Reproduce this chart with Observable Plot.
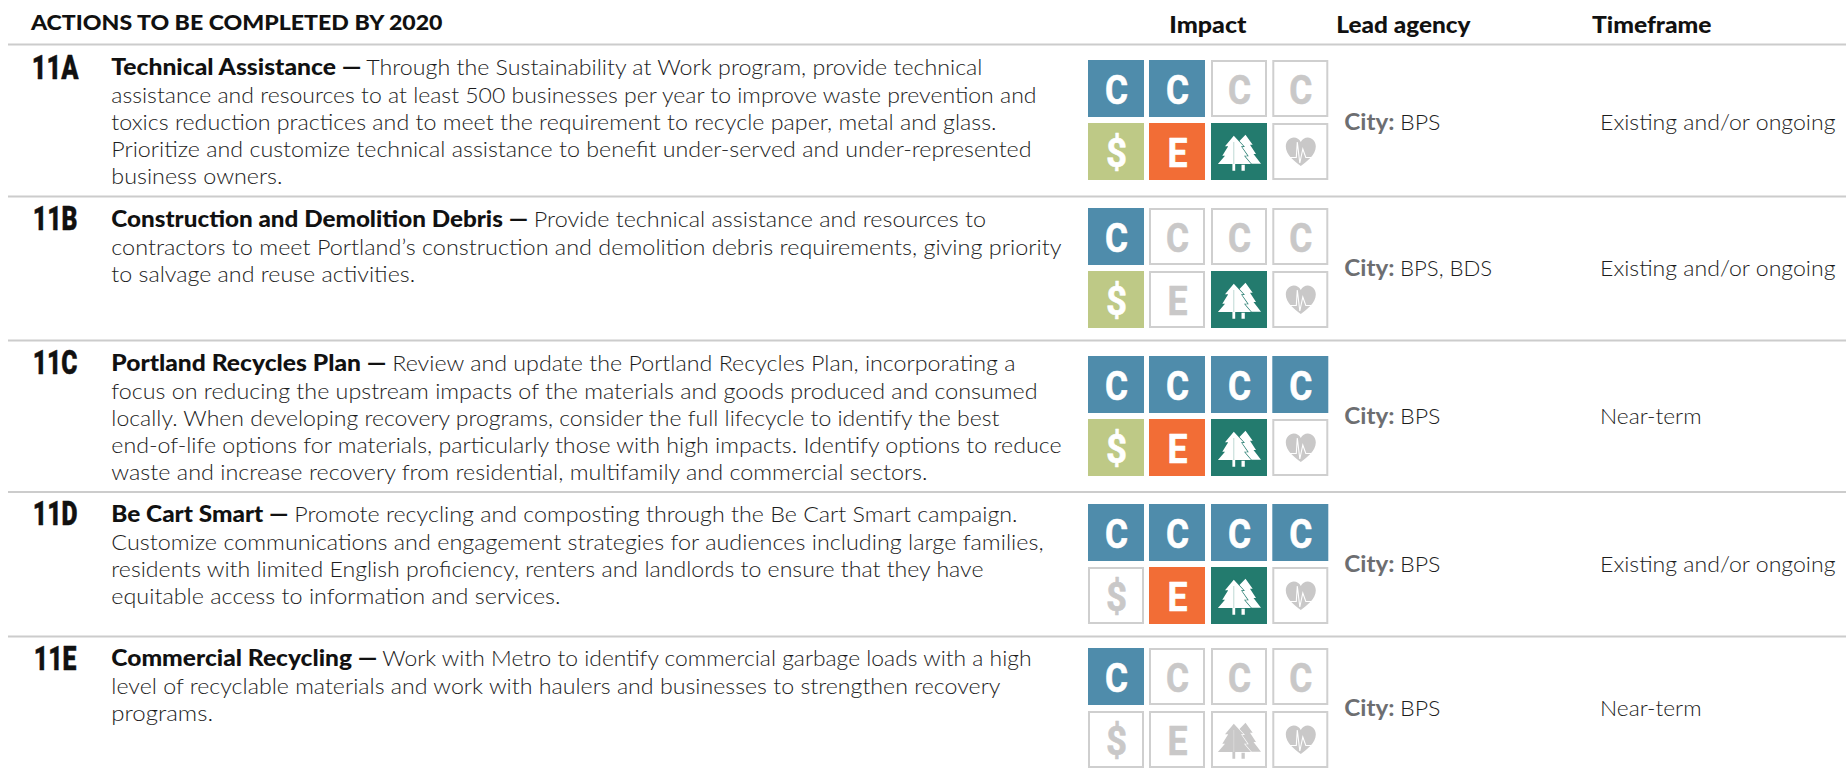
<!DOCTYPE html>
<html>
<head>
<meta charset="utf-8">
<script src="https://cdn.jsdelivr.net/npm/d3@7"></script>
<script src="https://cdn.jsdelivr.net/npm/@observablehq/plot@0.6"></script>
<style>
html,body{margin:0;padding:0;background:#fff;overflow:hidden}
#chart{width:1846px;height:776px;overflow:hidden}
svg{display:block}
</style>
</head>
<body>
<div id="chart"></div>
<script>
// ---------- DATA ----------
const pageTitle = "ACTIONS TO BE COMPLETED BY 2020";
const columnHeads = ["Impact", "Lead agency", "Timeframe"];
const actionIds = ["11A", "11B", "11C", "11D", "11E"];
const actionTitles = [
  "Technical Assistance —",
  "Construction and Demolition Debris —",
  "Portland Recycles Plan —",
  "Be Cart Smart —",
  "Commercial Recycling —"
];
const actionLines = [
  ["Through the Sustainability at Work program, provide technical",
   "assistance and resources to at least 500 businesses per year to improve waste prevention and",
   "toxics reduction practices and to meet the requirement to recycle paper, metal and glass.",
   "Prioritize and customize technical assistance to benefit under-served and under-represented",
   "business owners."],
  ["Provide technical assistance and resources to",
   "contractors to meet Portland’s construction and demolition debris requirements, giving priority",
   "to salvage and reuse activities."],
  ["Review and update the Portland Recycles Plan, incorporating a",
   "focus on reducing the upstream impacts of the materials and goods produced and consumed",
   "locally. When developing recovery programs, consider the full lifecycle to identify the best",
   "end-of-life options for materials, particularly those with high impacts. Identify options to reduce",
   "waste and increase recovery from residential, multifamily and commercial sectors."],
  ["Promote recycling and composting through the Be Cart Smart campaign.",
   "Customize communications and engagement strategies for audiences including large families,",
   "residents with limited English proficiency, renters and landlords to ensure that they have",
   "equitable access to information and services."],
  ["Work with Metro to identify commercial garbage loads with a high",
   "level of recyclable materials and work with haulers and businesses to strengthen recovery",
   "programs."]
];
const leadPrefix = "City:";
const leadAgencies = ["BPS", "BPS, BDS", "BPS", "BPS", "BPS"];
const timeframes = ["Existing and/or ongoing", "Existing and/or ongoing", "Near-term", "Existing and/or ongoing", "Near-term"];
const carbonRating = [2, 1, 4, 4, 1];      // how many of the four C boxes are lit
const economyFlags = [1, 1, 1, 0, 0];      // $
const equityFlags  = [1, 0, 1, 1, 0];      // E
const natureFlags  = [1, 1, 1, 1, 0];      // trees
const healthFlags  = [0, 0, 0, 0, 0];      // heart

// ---------- LAYOUT & STYLE ----------
const W = 1846, H = 776;
const ruleYs = [44, 196, 340, 491.5, 636];
const bodyBase = [74.7, 226.7, 370.7, 521.7, 665.7];
const idBase = [78.5, 229.5, 373.5, 524.5, 669];
const iconRowTop = [60, 208, 356, 504, 648];
const iconCol = [1088, 1149, 1211, 1272.3];
const iconW = 56, iconH = 57, iconGap = 63;
const rightBase = [129.3, 275, 423.7, 571.7, 715.5];
const lineEnds = [
  [982, 1036, 996, 1031, 282],
  [985.6, 1061, 414.6],
  [1015, 1037, 999, 1061, 927],
  [1017, 1043, 983, 560],
  [1031, 1000, 212.5]
];
const titleEnd = [361, 527.5, 386, 288, 377];
const bodyStart = [367, 534.5, 393, 295, 383];
const headX = [[1170, 1246], [1337, 1470], [1592.7, 1711]];
const idEnd = [78, 77, 77, 77, 76], idStart = [32.5, 33.5, 33.5, 33.5, 34.5];
const glyphWidth = {C: 23, $: 21, E: 20};
const sans = "Lato, 'Noto Sans', sans-serif";
const BLUE = "#4f8cab", LIME = "#bec986", ORANGE = "#f26d36", TEAL = "#237b6e", GREY = "#c9c8c8", RULE = "#cccccc", INK = "#1c1c1c";
const BEARING = 1.2;

// Symbol shapes for the tree and heart icons
const poly = (c, pts) => { pts.forEach(([x, y], i) => i ? c.lineTo(x, y) : c.moveTo(x, y)); c.closePath(); };
const treeBack = {draw(c) {
  poly(c, [[6,-17.3],[13.2,-7.3],[10.5,-7.3],[16.5,2],[14,2],[21.5,11.8],[5.3,11.8],[5.3,18.7],[2,18.7],[2,11.8],[-2,11.8],[-2,-9]]);
}};
const treeFront = {draw(c) {
  poly(c, [[-5.7,-16.3],[4,-5.7],[1.5,-5.7],[8,3.7],[4.5,3.7],[11.5,12],[-4.3,12],[-4.3,18.7],[-7.1,18.7],[-7.1,12],[-21.6,12],[-14.5,3.7],[-17.2,3.7],[-11.3,-5.7],[-14.5,-5.7]]);
}};
const treeVein = {draw(c) { c.moveTo(-5.7,-10); c.lineTo(-5.7,12); }};
const heartShape = {draw(c) {
  c.moveTo(0,14);
  c.bezierCurveTo(-6,9.5,-15,3,-15,-5.5);
  c.bezierCurveTo(-15,-11,-11,-14.5,-7,-14.5);
  c.bezierCurveTo(-4,-14.5,-1.5,-13,0,-10);
  c.bezierCurveTo(1.5,-13,4,-14.5,7,-14.5);
  c.bezierCurveTo(11,-14.5,15,-11,15,-5.5);
  c.bezierCurveTo(15,3,6,9.5,0,14);
  c.closePath();
}};
const heartPulse = {draw(c) {
  c.moveTo(-15,5.5); c.lineTo(-4.5,5.5); c.lineTo(-3.5,-10); c.lineTo(-1,11); c.lineTo(2,-3); c.lineTo(5,5.5); c.lineTo(15,5.5);
}};

// ---------- TABLES BUILT FROM THE DATA ----------
const cells = [];
actionIds.forEach((id, r) => {
  [0,1,2,3].forEach(k => cells.push({r, row:0, col:k, glyph:"C", on:k < carbonRating[r], color:BLUE}));
  cells.push({r, row:1, col:0, glyph:"$", on:!!economyFlags[r], color:LIME});
  cells.push({r, row:1, col:1, glyph:"E", on:!!equityFlags[r], color:ORANGE});
  cells.push({r, row:1, col:2, glyph:"tree", on:!!natureFlags[r], color:TEAL});
  cells.push({r, row:1, col:3, glyph:"heart", on:!!healthFlags[r], color:"#c1272d"});
});
cells.forEach(d => {
  d.x = iconCol[d.col]; d.y = iconRowTop[d.r] + d.row * iconGap;
  d.cx = d.x + iconW/2; d.cy = d.y + iconH/2;
  d.fg = d.on ? "#ffffff" : GREY;
  d.bg = d.on ? d.color : "#ffffff";
  d.w = glyphWidth[d.glyph];
});
const lit = cells.filter(d => d.on), unlit = cells.filter(d => !d.on);
const letters = cells.filter(d => d.glyph.length === 1);
const trees = cells.filter(d => d.glyph === "tree");
const hearts = cells.filter(d => d.glyph === "heart");

const bodyRows = [];
actionLines.forEach((lines, r) => lines.forEach((text, i) => bodyRows.push({
  text, x: i ? 112 : bodyStart[r], y: bodyBase[r] + 27.3*i, w: lineEnds[r][i] - (i ? 112 : bodyStart[r])
})));
const titleRows = actionTitles.map((text, r) => ({text, x:112, y:bodyBase[r], w:titleEnd[r]-112}));
const idRows = actionIds.map((text, r) => ({text, x:idStart[r], y:idBase[r], w:idEnd[r]-idStart[r]}));
const headRows = columnHeads.map((text, i) => ({text, x:headX[i][0], y:32.7, w:headX[i][1]-headX[i][0]}));
const prefixRows = actionIds.map((_, r) => ({text:leadPrefix, x:1345, y:rightBase[r], w:49}));
const agencyRows = leadAgencies.map((text, r) => ({text, x:1400.7, y:rightBase[r], w:(text.length>3?1491.7:1440)-1400.7}));
const timeRows = timeframes.map((text, r) => ({text, x:1600.7, y:rightBase[r], w:(text.length>10?1835:1701)-1600.7}));

const stretch = (rows, extra = 0) => ({
  render(index, scales, values, dims, ctx, next) {
    const g = next(index, scales, values, dims, ctx);
    d3.select(g).selectAll("text")
      .attr("textLength", (_, j) => rows[index[j]].w + extra)
      .attr("lengthAdjust", "spacingAndGlyphs");
    return g;
  }
});
// Text mark pinned to the reference's measured width
const fitted = (rows, opts) => Plot.text(rows, {
  x: d => d.x - BEARING, y: "y", text: "text", textAnchor: "start", lineAnchor: "bottom", ...opts, ...stretch(rows, BEARING)
});

const chart = Plot.plot({
  width: W, height: H,
  marginTop: 0, marginRight: 0, marginBottom: 0, marginLeft: 0,
  x: {domain: [0, W], range: [0, W], axis: null},
  y: {domain: [0, H], range: [0, H], axis: null},
  color: {type: "identity"},
  style: {background: "#fff", fontFamily: sans},
  marks: [
    Plot.ruleY(ruleYs, {x1: 8, x2: W, stroke: RULE, strokeWidth: 2}),
    fitted([{text: pageTitle, x: 31.6, y: 29, w: 410.4}], {fontFamily: sans, fontWeight: 900, fontSize: 21, fill: "#111"}),
    fitted(headRows, {fontFamily: sans, fontWeight: 900, fontSize: 22, fill: "#111"}),
    fitted(idRows, {fontFamily: "Roboto, sans-serif", fontWeight: 900, fontSize: 33, fill: "#111", stroke: "#111", strokeWidth: 0.4}),
    fitted(titleRows, {fontFamily: sans, fontWeight: 900, fontSize: 22, fill: "#111"}),
    fitted(bodyRows, {fontFamily: sans, fontWeight: 300, fontSize: 22, fill: INK}),
    fitted(prefixRows, {fontFamily: sans, fontWeight: 700, fontSize: 22, fill: "#6d6e71"}),
    fitted(agencyRows, {fontFamily: sans, fontWeight: 300, fontSize: 22, fill: INK}),
    fitted(timeRows, {fontFamily: sans, fontWeight: 300, fontSize: 22, fill: INK}),
    Plot.rect(lit, {x1: "x", x2: d => d.x + iconW, y1: "y", y2: d => d.y + iconH, fill: "color"}),
    Plot.rect(unlit, {x1: d => d.x + 1, x2: d => d.x + iconW - 1, y1: d => d.y + 1, y2: d => d.y + iconH - 1, fill: "#fff", stroke: "#cfcfcf", strokeWidth: 2}),
    Plot.text(letters, {x: "cx", y: d => d.y + 43, text: "glyph", fill: "fg", stroke: "fg", strokeWidth: 0.6, lineAnchor: "bottom", fontFamily: "Roboto, sans-serif", fontWeight: 700, fontSize: 40, ...stretch(letters)}),
    Plot.dot(trees, {x: "cx", y: "cy", r: 1, symbol: treeBack, fill: "fg"}),
    Plot.dot(trees, {x: "cx", y: "cy", r: 1, symbol: treeFront, fill: "bg", stroke: "bg", strokeWidth: 1.3}),
    Plot.dot(trees, {x: "cx", y: "cy", r: 1, symbol: treeFront, fill: "fg"}),
    Plot.dot(trees, {x: "cx", y: "cy", r: 1, symbol: treeVein, stroke: "bg", strokeWidth: 0.6, strokeOpacity: 0.5}),
    Plot.dot(hearts, {x: "cx", y: "cy", r: 1, symbol: heartShape, fill: "fg"}),
    Plot.dot(hearts, {x: "cx", y: "cy", r: 1, symbol: heartPulse, stroke: "bg", strokeWidth: 1.1})
  ]
});
document.getElementById("chart").appendChild(chart);
</script>
</body>
</html>
